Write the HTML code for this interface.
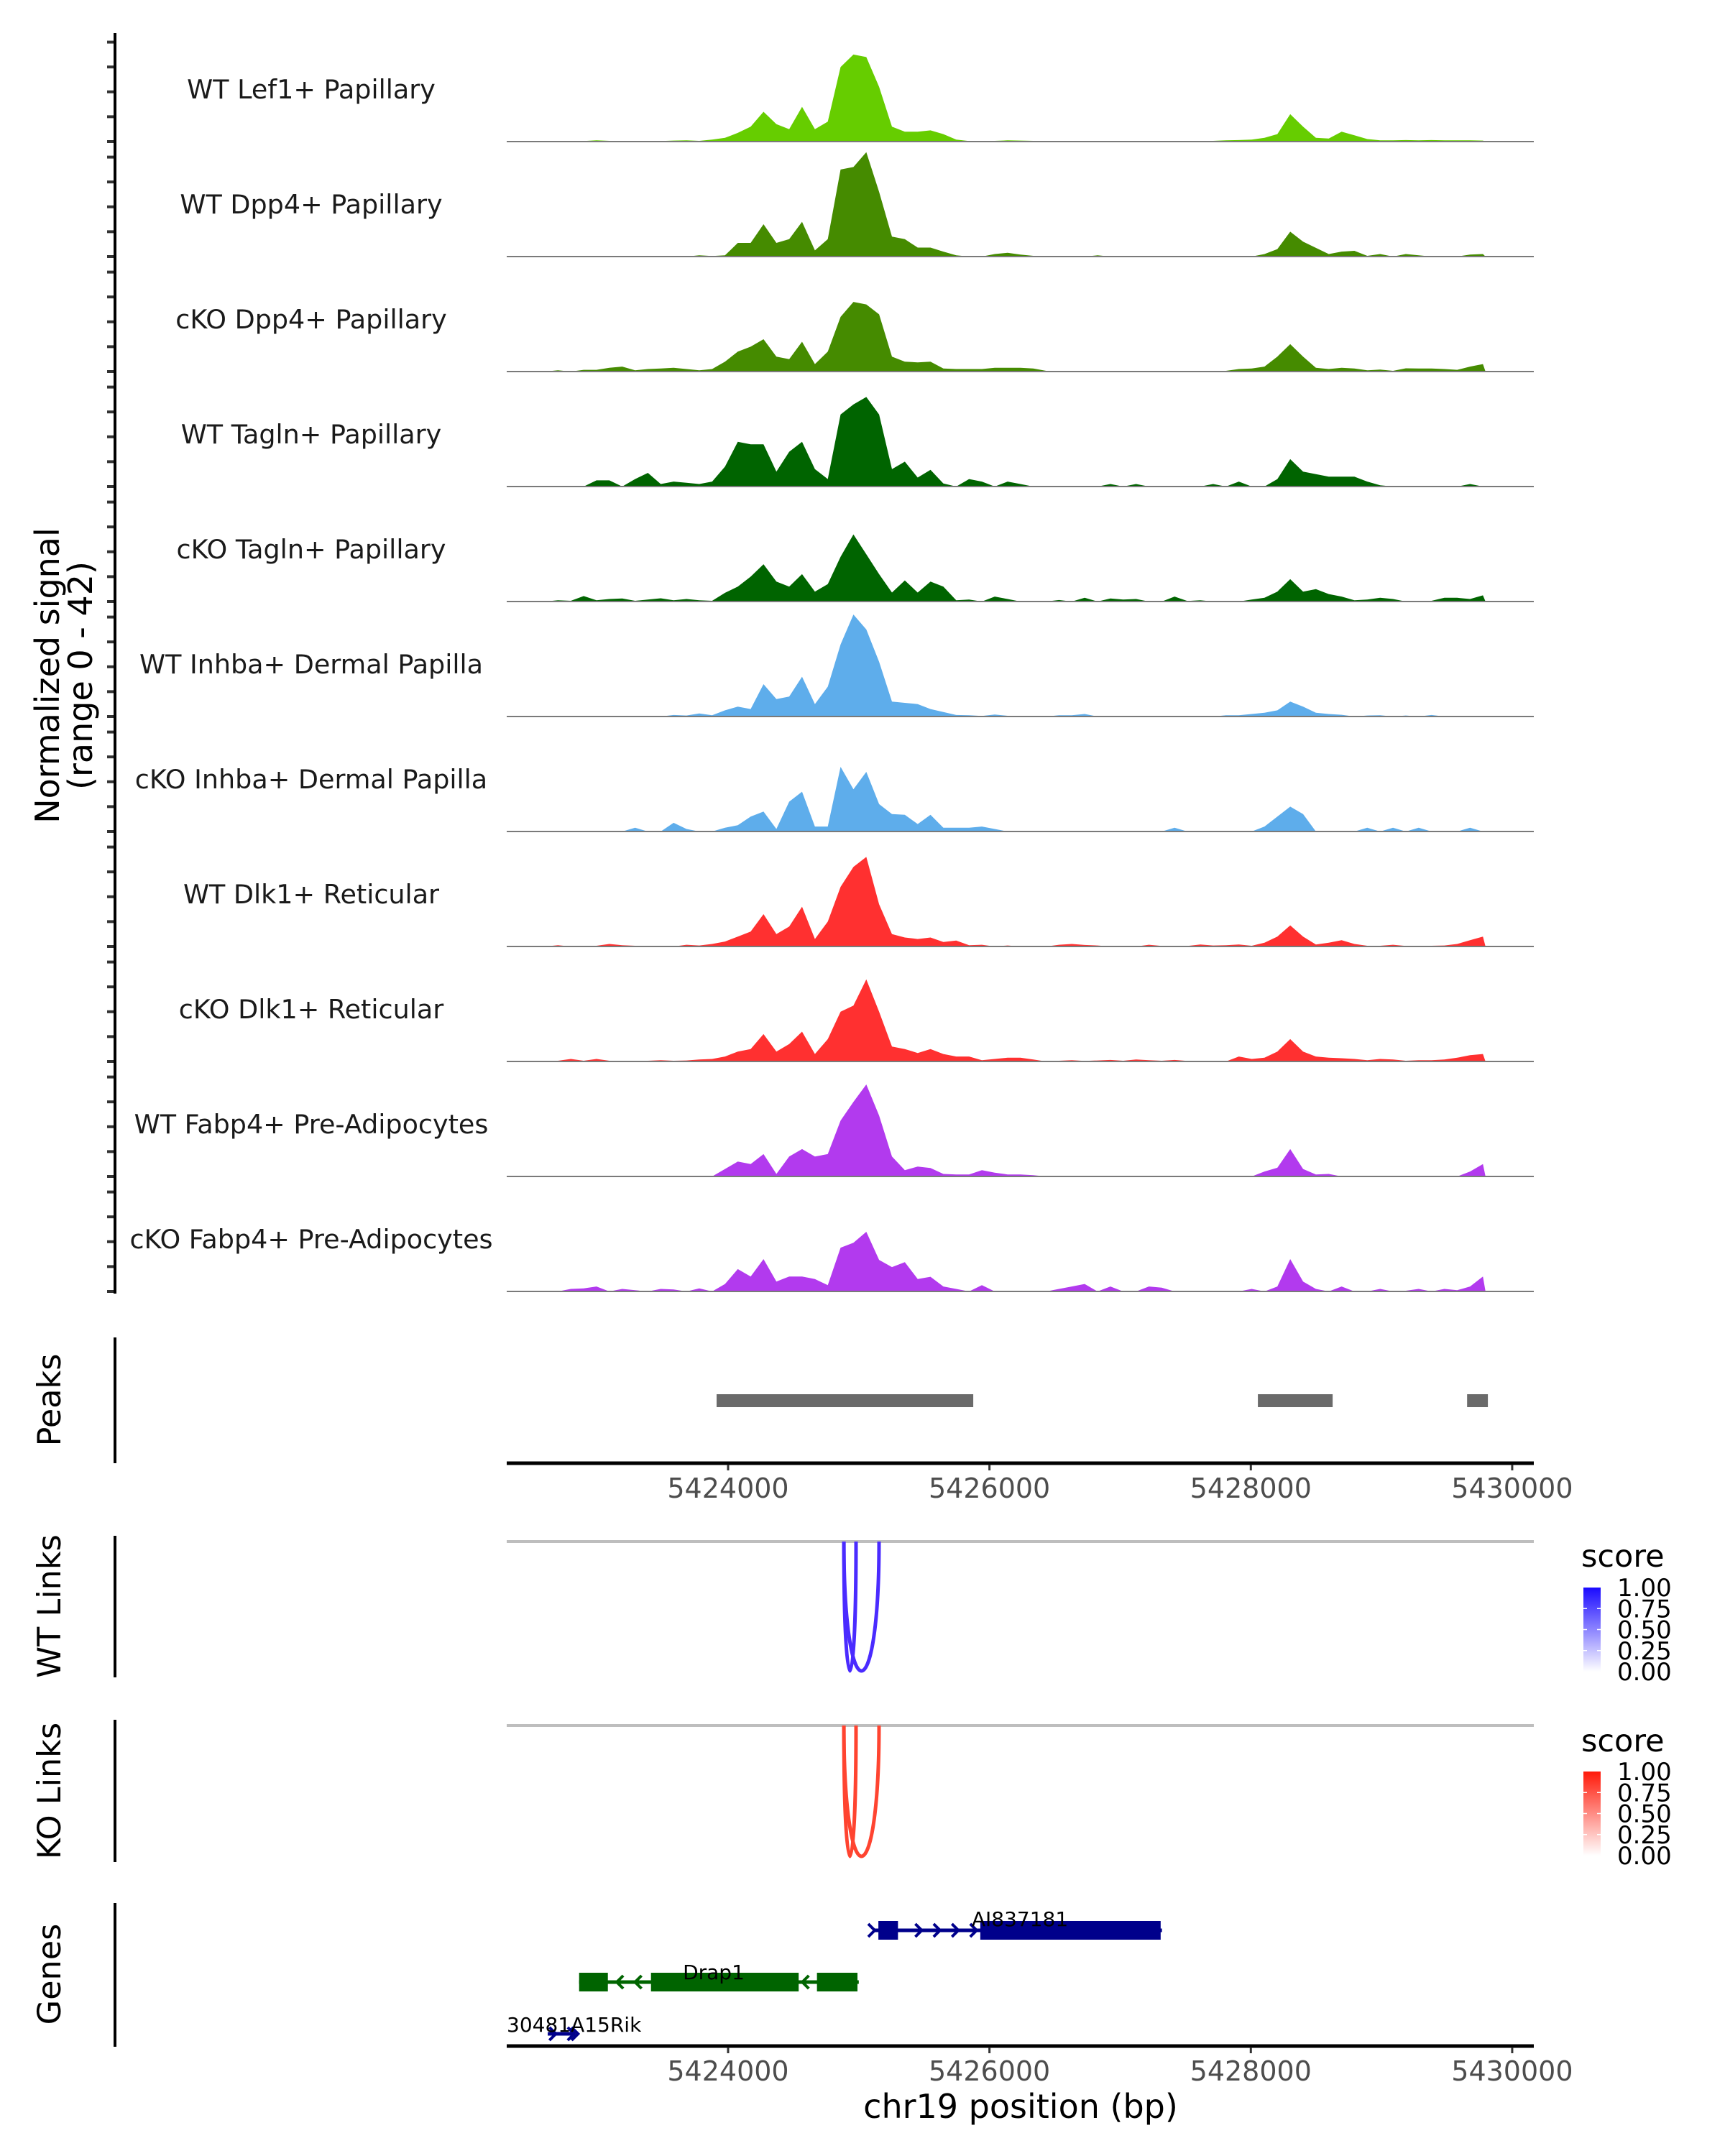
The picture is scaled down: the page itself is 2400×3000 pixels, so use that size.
<!DOCTYPE html>
<html><head><meta charset="utf-8"><title>Coverage tracks chr19</title>
<style>
html,body{margin:0;padding:0;background:#fff;}
svg{display:block;font-family:"DejaVu Sans","Liberation Sans",sans-serif;}
</style></head>
<body>
<svg id="fig" xmlns="http://www.w3.org/2000/svg" width="2400" height="3000" viewBox="0 0 2400 3000">
<rect width="2400" height="3000" fill="#fff"/>
<g id="tracks"></g>
<g id="peaks"></g>
<g id="links"></g>
<g id="genes"></g>
<g id="axes"></g>
</svg>
<script>
// ---- data ----
const binStart = 5422600;
const binStep = 98.3;
const trackNames = ["WT Lef1+ Papillary","WT Dpp4+ Papillary","cKO Dpp4+ Papillary","WT Tagln+ Papillary","cKO Tagln+ Papillary","WT Inhba+ Dermal Papilla","cKO Inhba+ Dermal Papilla","WT Dlk1+ Reticular","cKO Dlk1+ Reticular","WT Fabp4+ Pre-Adipocytes","cKO Fabp4+ Pre-Adipocytes"];
const trackColors = ["#66cd00","#458b00","#458b00","#006400","#006400","#5eadeb","#5eadeb","#ff3030","#ff3030","#b23aee","#b23aee"];
const sigLef1WT = [0,0.2,0.3,0.2,0.5,0.3,0.2,0.1,0.3,0.2,0.4,0.5,0.3,0.8, 1.5,3.5,6,12,7,5,14,5,8,30,35,34,22,6,4,4,4.5,3,0.8, 0.2,0.3,0.3,0.5,0.4,0.3,0.2,0.2,0.3,0.2,0.2,0.1,0.2,0.1,0.2,0.2,0.2,0.3,0.2,0.3, 0.5,0.6,0.8,1.5,3,11,6,1.5,1.2,4,2.5,1,0.5,0.5,0.6,0.5,0.6,0.5,0.5,0.5,0.4];
const sigDpp4WT = [0,0,0,0,0,0,0,0,0,0.3,0.1,0,0.5,0.2, 0.5,5.5,5.5,13,5.5,7,14,2.5,7,35,36,42,26,8,7,3.6,3.6,2,0.5, 0,0,1,1.5,0.8,0.3,0,0.3,0,0,0.5,0,0,0,0,0,0,0,0,0.3, 0.3,0,0,1,3,10,6,3.5,1,2,2.3,0.3,1,0,1,0.5,0,0,0,0.8,1];
const sigDpp4KO = [0,0.5,0,0.7,0.7,1.5,2,0.5,1,1.2,1.5,1,0.5,1, 4,8,10,13,6,5,12,3,8,22,28,27,23,6,4,3.7,4,1.2,1, 1,1,1.5,1.5,1.5,1.2,0.3,0.3,0.3,0.3,0.2,0.3,0.3,0.2,0.2,0.3,0.2,0.3,0.2,0.3, 0.3,1,1.2,2,6,11,6,1.5,1,1.5,1.2,0.5,0.8,0.3,1.3,1.2,1.2,1,0.7,2,3];
const sigTaglnWT = [0,0,0,0,2.5,2.5,0,3,5.5,1,2,1.5,1,2, 8,18,17,17,6,14,18,7,3,29,33,36,29,7,10,3.6,6.7,1.2,0, 3,2,0,2,1,0,0,0,0,0,0,1,0,1,0,0,0,0,0,1, 0,2,0,0,3,11,6,5,4,4,4,2,0.5,0,0,0,0,0,0,1,0];
const sigTaglnKO = [0,0.5,0.3,2.2,0.5,1,1.2,0.3,0.8,1.3,0.5,1,0.5,0.3, 3.5,6,10,15,8,6,11,4,7,18,27,19,11,3.6,8.5,3.6,8,6,0.5, 0.8,0,2,1,0,0.3,0,0.6,0,1.5,0,1.2,0.8,1,0,0,2,0.2,0.5,0, 0.3,0,0.8,1.5,4,9,4,5,3,2,0.5,0.8,1.5,1,0,0,0.3,1.5,1.5,1,2.5];
const sigInhbaWT = [0,0,0,0,0,0,0,0,0,0,0.6,0.4,1.2,0.5, 2.5,4,3,13,7,8,16,5,12,29,41,35,22,6,5.5,5,3,1.8,0.6, 0.5,0.2,0.8,0.3,0,0,0,0.5,0.5,1,0,0,0,0,0,0,0,0,0,0, 0.5,0.5,1,1.5,2.5,6,4,1.5,1,0.7,0,0.4,0.5,0,0.4,0,0.6,0,0,0,0];
const sigInhbaKO = [0,0,0,0,0,0,0,1.5,0,0,3.5,1,0,0, 1.5,2.5,6,8,1,12,16,2,2,26,17,24,11,7,6.7,3,6.7,1.5,1.5, 1.5,2,1,0,0,0,0,0,0,0,0,0,0,0,0,0,1.5,0,0,0, 0,0,0,2,6,10,7,0,0,0,0,1.5,0,1.5,0,1.5,0,0,0,1.5,0];
const sigDlk1WT = [0,0.5,0,0,0.3,1,0.5,0.3,0.3,0,0,0.7,0.4,1, 2,4,6,13,5,8,16,3,10,24,32,36,17,5,3.6,3,3.6,1.8,2.4, 0.5,0.7,0,0.4,0,0,0,0.7,1,0.6,0.4,0,0.3,0,0.7,0.2,0.3,0.2,0.8,0.4, 0.5,0.8,0.3,1.5,4,8.5,4,0.8,1.5,2.5,1,0.3,0.3,0.7,0.2,0.2,0.3,0.4,1,2.5,4];
const sigDlk1KO = [0,0.3,1,0.3,1,0.3,0.3,0,0.3,0.5,0.3,0.4,0.8,1, 2,4,5,11,4,7,12,3,9,20,22.5,33,20,6,5,3.4,5,3,2, 2,0.5,1,1.5,1.5,0.8,0,0.3,0.5,0.2,0.4,0.6,0.3,0.8,0.5,0.3,0.6,0.2,0.3,0, 0,2,1,1.5,4,9,4,2,1.5,1.3,1,0.5,1,0.8,0.3,0.5,0.5,0.8,1.5,2.5,3];
const sigFabp4WT = [0,0,0,0,0,0,0,0,0,0,0,0,0,0, 3,6,5,9,1,8,11,8,9,22.5,30,37,24.5,8,2.5,4,3.4,1,0.8, 0.8,2.5,1.5,0.8,0.8,0.5,0,0,0,0,0,0,0,0,0,0,0,0,0,0, 0,0,0,2,3.5,11,3,0.8,1,0,0,0,0,0,0,0,0,0,0,2,5];
const sigFabp4KO = [0,0,1,1.2,2,0,1,0.5,0,1,0.8,0,1.2,0, 3,9,6,13,4,6,6,5,2.5,17.6,19.6,24,12.7,9.8,11.8,5,5.9,2,1, 0,2.5,0,0,0,0,0,1,2,3,0,2,0,0,2,1.5,0,0,0,0, 0,0,1,0,2,13,4,1,0,2,0,0,1,0,0.3,1,0,1,0.5,2,6];
const signals = [sigLef1WT,sigDpp4WT,sigDpp4KO,sigTaglnWT,sigTaglnKO,sigInhbaWT,sigInhbaKO,sigDlk1WT,sigDlk1KO,sigFabp4WT,sigFabp4KO];
const yTicks = [0,10,20,30,40];
const peakStarts = [5423912,5428054,5429655];
const peakEnds = [5425876,5428626,5429814];
const xTicks = [5424000,5426000,5428000,5430000];
const wtLinkStarts = [5424886,5424886];
const wtLinkEnds = [5424979,5425155];
const koLinkStarts = [5424886,5424886];
const koLinkEnds = [5424979,5425155];
const legendTicks = ["1.00","0.75","0.50","0.25","0.00"];

// ---- scales ----
const NS="http://www.w3.org/2000/svg";
const X0=705, X1=2134;
function xs(bp){ return 1013 + (bp-5424000)*0.18182; }
const UNIT=3.46;
function baseY(i){ return 197 + i*160; }
function mk(tag, attrs, parent, text){
  const e=document.createElementNS(NS,tag);
  for(const k in attrs) e.setAttribute(k,attrs[k]);
  if(text!==undefined) e.textContent=text;
  parent.appendChild(e); return e;
}
const gT=document.getElementById('tracks');
const gA=document.getElementById('axes');
const gP=document.getElementById('peaks');
const gL=document.getElementById('links');
const gG=document.getElementById('genes');

// ---- coverage tracks ----
signals.forEach((sig,i)=>{
  const b=baseY(i);
  let d='M'+xs(binStart-50).toFixed(1)+','+b;
  sig.forEach((v,k)=>{ d+=' L'+xs(binStart+k*binStep).toFixed(1)+','+(b-v*UNIT).toFixed(1); });
  d+=' L'+xs(binStart+(sig.length-1)*binStep+20).toFixed(1)+','+b+' Z';
  const p=mk('path',{d:d,fill:trackColors[i]},gT);
  
  
  const bl=mk('line',{x1:X0,x2:X1,y1:b,y2:b,stroke:'#7a7a7a','stroke-width':2},gT);
  
  
  const t=mk('text',{x:433,y:b-60,'text-anchor':'middle','font-size':36.5,fill:'#1a1a1a'},gT,trackNames[i]);
  
  
  yTicks.forEach(v=>{
    const tk=mk('line',{x1:149,x2:160,y1:b-v*UNIT,y2:b-v*UNIT,stroke:'#333','stroke-width':4},gA);
    
    
  });
});
// y axis
let e=mk('line',{x1:160,x2:160,y1:46,y2:1800,stroke:'#000','stroke-width':4},gA);


e=mk('text',{transform:'translate(82,940) rotate(-90)','text-anchor':'middle','font-size':46,fill:'#000'},gA,'Normalized signal');


e=mk('text',{transform:'translate(128,940) rotate(-90)','text-anchor':'middle','font-size':46,fill:'#000'},gA,'(range 0 - 42)');



// ---- panel side labels ----
function sideLabel(txt,cy,y1,y2,name){
  const l=mk('line',{x1:160,x2:160,y1:y1,y2:y2,stroke:'#000','stroke-width':4},gA);
  
  
  const t=mk('text',{transform:'translate(84,'+cy+') rotate(-90)','text-anchor':'middle','font-size':44.5,fill:'#000'},gA,txt);
  
  
}
sideLabel('Peaks',1948,1861,2036,'peaks');
sideLabel('WT Links',2235,2137,2334,'wt-links');
sideLabel('KO Links',2492,2393,2591,'ko-links');
sideLabel('Genes',2747,2648,2848,'genes');

// ---- x axes ----
function xAxis(y,name){
  const l=mk('line',{x1:X0,x2:X1,y1:y,y2:y,stroke:'#000','stroke-width':5},gA);
  
  
  xTicks.forEach(v=>{
    const tk=mk('line',{x1:xs(v),x2:xs(v),y1:y+2,y2:y+10,stroke:'#333','stroke-width':3},gA);
    
    
    const tl=mk('text',{x:xs(v),y:y+48,'text-anchor':'middle','font-size':38,fill:'#4d4d4d'},gA,String(v));
    
    
  });
}
xAxis(2036,'peaks-x-axis');
xAxis(2847,'genes-x-axis');
e=mk('text',{x:1420,y:2947,'text-anchor':'middle','font-size':46,fill:'#000'},gA,'chr19 position (bp)');



// ---- peaks ----
peakStarts.forEach((s,i)=>{
  const r=mk('rect',{x:xs(s),y:1940,width:xs(peakEnds[i])-xs(s),height:18,fill:'#6a6a6a'},gP);
  
  
});

// ---- links ----
function linkPanel(y0,yb,starts,ends,color,name){
  const l=mk('line',{x1:X0,x2:X1,y1:y0,y2:y0,stroke:'#bebebe','stroke-width':4},gL);
  
  
  const Y=y0+(yb-y0)/0.75;
  starts.forEach((s,i)=>{
    const a=xs(s), b=xs(ends[i]);
    const p=mk('path',{d:'M'+a+','+y0+' C'+a+','+Y+' '+b+','+Y+' '+b+','+y0,fill:'none',stroke:color,'stroke-width':5},gL);
    
    
  });
}
linkPanel(2145,2325,wtLinkStarts,wtLinkEnds,'#4a2bff','wt-link');
linkPanel(2401,2583,koLinkStarts,koLinkEnds,'#ff4430','ko-link');

// ---- legends ----
const defs=mk('defs',{},document.getElementById('fig'));
function grad(id,c){
  const g=mk('linearGradient',{id:id,x1:0,y1:0,x2:0,y2:1},defs);
  mk('stop',{offset:'0','stop-color':c},g);
  mk('stop',{offset:'1','stop-color':'#ffffff'},g);
}
grad('gblue','#1a0aff'); grad('gred','#ff1a0a');
function legend(titleY,barTop,barBot,gid,name){
  const t=mk('text',{x:2200,y:titleY,'font-size':43,fill:'#000'},gL,'score');
  
  
  const r=mk('rect',{x:2203,y:barTop,width:24,height:barBot-barTop,fill:'url(#'+gid+')'},gL);
  
  
  legendTicks.forEach((lab,i)=>{
    const y=barTop+i*(barBot-barTop)/4;
    if(i>0&&i<4){
      mk('line',{x1:2203,x2:2208,y1:y,y2:y,stroke:'#fff','stroke-width':1.5},gL);
      mk('line',{x1:2222,x2:2227,y1:y,y2:y,stroke:'#fff','stroke-width':1.5},gL);
    }
    const tl=mk('text',{x:2250,y:y+12,'font-size':34,fill:'#000'},gL,lab);
    
    
  });
}
legend(2180,2209,2326,'gblue','wt-legend');
legend(2437,2465,2582,'gred','ko-legend');

// ---- genes ----
function chevron(x,y,dir,color){
  const s=dir>0?1:-1;
  mk('path',{d:'M'+(x-5*s)+','+(y-9)+' L'+(x+4*s)+','+y+' L'+(x-5*s)+','+(y+9),fill:'none',stroke:color,'stroke-width':4},gG);
}
function gene(name,color,y,lineStart,lineEnd,exS,exE,chev,dir,label,lx,ly,anchor){
  const g=mk('g',{},gG);
  
  
  mk('line',{x1:xs(lineStart),x2:xs(lineEnd),y1:y,y2:y,stroke:color,'stroke-width':5},g);
  exS.forEach((s,i)=>{ mk('rect',{x:xs(s),y:y-13,width:xs(exE[i])-xs(s),height:26,fill:color},g); });
  chev.forEach(c=>chevron(xs(c),y,dir,color));
  const t=mk('text',{x:lx,y:ly,'text-anchor':anchor,'font-size':28,fill:'#000'},gG,label);
  
  
}
gene('ai837181','#00008b',2686,5425110,5427320,[5425150,5425930],[5425300,5427310],[5425100,5425460,5425600,5425740,5425880],1,'AI837181',1419,2680,'middle');
gene('drap1','#006400',2758,5422860,5425000,[5422860,5423410,5424680],[5423080,5424540,5424990],[5423170,5423310,5424590],-1,'Drap1',993,2754,'middle');
gene('30481a15rik','#00008b',2830,5422620,5422830,[],[],[5422660,5422800,5422830],1,'30481A15Rik',705,2827,'start');
</script>
</body></html>
